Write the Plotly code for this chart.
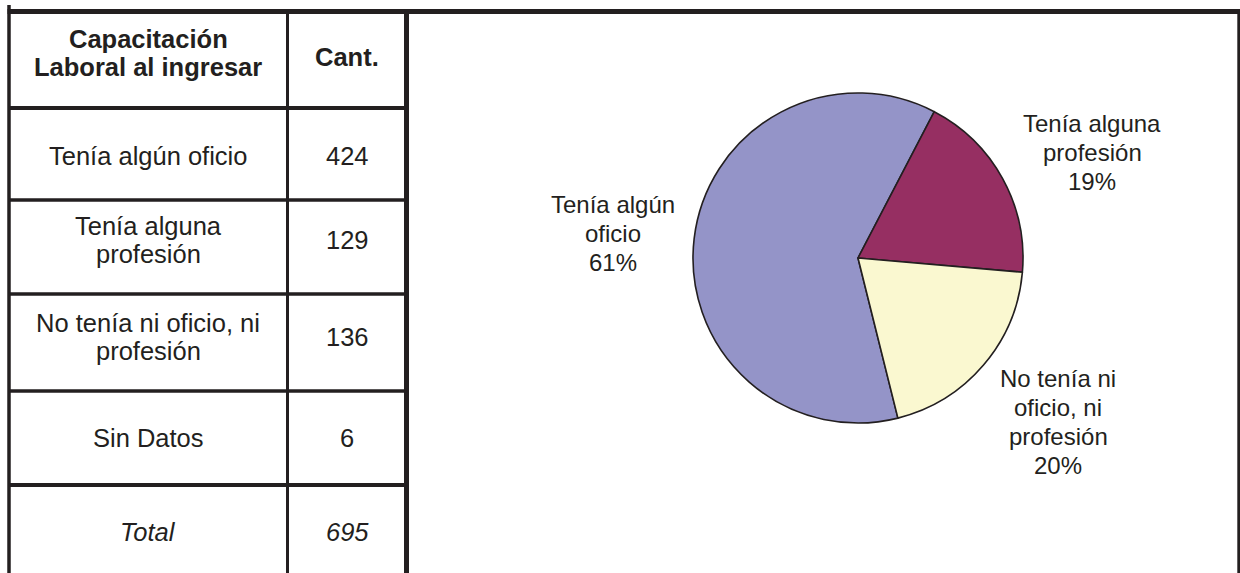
import plotly.graph_objects as go

# ---------------- data ----------------
categories = ["Tenía algún oficio", "Tenía alguna profesión",
              "No tenía ni oficio, ni profesión", "Sin Datos"]
counts = [424, 129, 136, 6]
total_label = "Total"
total_value = 695
header = ["Capacitación<br>Laboral al ingresar", "Cant."]

# table display labels (line breaks as in the table)
table_labels = ["Tenía algún oficio", "Tenía alguna<br>profesión",
                "No tenía ni oficio, ni<br>profesión", "Sin Datos"]

# pie uses the first three categories
pie_categories = categories[:3]
pie_values = counts[:3]
pie_labels = ["Tenía algún<br>oficio", "Tenía alguna<br>profesión",
              "No tenía ni<br>oficio, ni<br>profesión"]
pie_colors = ["#9494c8", "#962f62", "#faf8d0"]

# ---------------- layout constants ----------------
W, H = 1240, 573
INK = "#231f20"
FONT = "Liberation Sans, Arial, sans-serif"

x_left, x_mid, x_right, x_far = 9, 287.5, 406.5, 1238.8
y_top = 11.5
row_lines = [108, 200, 294, 391, 485]

fig = go.Figure()

# pie
cx, cy, r = 858, 258, 165
fig.add_trace(go.Pie(
    labels=pie_categories, values=pie_values, sort=False,
    direction="clockwise", rotation=166,
    marker=dict(colors=pie_colors, line=dict(color=INK, width=1.6)),
    textinfo="none", hoverinfo="label+percent", showlegend=False,
    domain=dict(x=[(cx - r) / W, (cx + r) / W],
                y=[(H - cy - r) / H, (H - cy + r) / H]),
))

shapes = []
def line(x0, y0, x1, y1, w):
    shapes.append(dict(type="line", xref="x", yref="y", x0=x0, y0=y0,
                       x1=x1, y1=y1, line=dict(color=INK, width=w)))

line(x_left - 1.5, y_top, W, y_top, 5)
line(x_left, 5, x_left, H, 3.5)
line(x_mid, y_top, x_mid, H, 3)
line(x_right, y_top, x_right, H, 5)
line(x_far, y_top, x_far, H, 3)
for i, yl in enumerate(row_lines):
    line(x_left, yl, x_right, yl, 4 if i in (0, 4) else 3.5)

annotations = []
def txt(x, yc, s, size, spacing, bold=False, italic=False):
    parts = s.split("<br>")
    n = len(parts)
    for i, p in enumerate(parts):
        if bold:
            p = "<b>" + p + "</b>"
        if italic:
            p = "<i>" + p + "</i>"
        annotations.append(dict(
            x=x, y=yc + (i - (n - 1) / 2) * spacing, xref="x", yref="y",
            text=p, showarrow=False, xanchor="center", yanchor="middle",
            font=dict(family=FONT, size=size, color=INK)))

c1 = (x_left + x_mid) / 2
c2 = (x_mid + x_right) / 2
txt(c1, 53, header[0], 25.5, 27.5, bold=True)
txt(c2, 57, header[1], 25.5, 28, bold=True)
row_centers = [156, 240, 337, 438]
for lab, val, yc in zip(table_labels, counts, row_centers):
    txt(c1, yc, lab, 25.5, 28.5)
    txt(c2, yc, str(val), 25.5, 28.5)
txt(c1, 532, total_label, 25.5, 28, italic=True)
txt(c2, 532, str(total_value), 25.5, 28, italic=True)

# pie labels (percent of the table total)
label_pos = [(613, 233), (1092, 152.5), (1058, 421.5)]
for lab, v, (lx, ly) in zip(pie_labels, pie_values, label_pos):
    pct = round(100 * v / total_value)
    txt(lx, ly, f"{lab}<br>{pct}%", 24, 29)

fig.update_layout(
    width=W, height=H, margin=dict(l=0, r=0, t=0, b=0),
    paper_bgcolor="white", plot_bgcolor="white",
    xaxis=dict(range=[0, W], visible=False, fixedrange=True),
    yaxis=dict(range=[H, 0], visible=False, fixedrange=True),
    shapes=shapes, annotations=annotations, showlegend=False,
)

fig.write_html("out.html",
               config={"displayModeBar": False},
               post_script="document.body.style.margin='0px';"
                           "document.body.style.overflow='hidden';")
